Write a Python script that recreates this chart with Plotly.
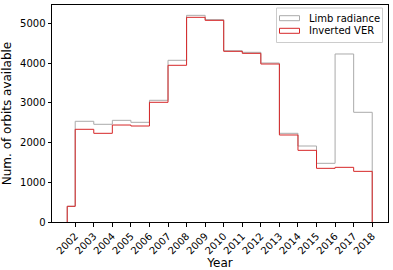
import plotly.graph_objects as go

bin_edges = [2001.57, 2002, 2003, 2004, 2005, 2006, 2007, 2008, 2009, 2010,
             2011, 2012, 2013, 2014, 2015, 2016, 2017, 2018]
limb_counts = [395, 2535, 2459, 2559, 2509, 3063, 4070, 5202, 5093, 4310,
               4271, 4002, 2232, 1913, 1477, 4229, 2761]
ver_counts = [395, 2333, 2232, 2441, 2416, 3013, 3944, 5152, 5076, 4296,
              4245, 3977, 2190, 1804, 1351, 1376, 1275]
tick_years = list(range(2002, 2019))
series_names = ["Limb radiance", "Inverted VER"]
series_colors = ["#aaaaaa", "#d62728"]

W, H = 393, 270
ML, MR, MT, MB = 52, 5, 5, 48
PW, PH = W - ML - MR, H - MT - MB


def step_path(edges, counts):
    xs = [edges[0]] + edges[:-1] + [edges[-1]]
    ys = [0] + counts + [0]
    return xs, ys


def px(x):
    return (x - ML) / PW


def py(y):
    return (H - MB - y) / PH


fig = go.Figure()
for name, counts, color in zip(series_names, [limb_counts, ver_counts], series_colors):
    xs, ys = step_path(bin_edges, counts)
    fig.add_trace(go.Scatter(x=xs, y=ys, mode="lines", name=name,
                             line=dict(color=color, width=1, shape="hv"),
                             showlegend=False, hoverinfo="skip"))

# custom matplotlib-like legend
shapes = [dict(type="rect", xref="paper", yref="paper",
               x0=px(276.5), x1=px(382.5), y0=py(42.5), y1=py(8),
               line=dict(color="#cccccc", width=1), fillcolor="rgba(255,255,255,0.8)",
               layer="above")]
annotations = []
for i, (name, color) in enumerate(zip(series_names, series_colors)):
    yc = 18.2 + i * 12.6
    shapes.append(dict(type="rect", xref="paper", yref="paper",
                       x0=px(279.5), x1=px(299.5), y0=py(yc + 2.5), y1=py(yc - 2.5),
                       line=dict(color=color, width=1), fillcolor="rgba(0,0,0,0)",
                       layer="above"))
    annotations.append(dict(xref="paper", yref="paper", x=px(306.5), y=py(yc),
                            xanchor="left", yanchor="middle", text=name,
                            showarrow=False, font=dict(size=10)))

fig.update_layout(
    width=W, height=H,
    margin=dict(l=ML, r=MR, t=MT, b=MB, autoexpand=False),
    plot_bgcolor="white", paper_bgcolor="white",
    font=dict(family="DejaVu Sans", size=10, color="black"),
    showlegend=False,
    shapes=shapes, annotations=annotations,
)
fig.update_xaxes(range=[2000.75, 2018.85], tickmode="array", tickvals=tick_years,
                 ticktext=[str(y) for y in tick_years], tickangle=-45,
                 ticks="outside", ticklen=3.5, tickcolor="black", showgrid=False,
                 zeroline=False, showline=True, linecolor="black", linewidth=1, mirror=True,
                 automargin=False, title=dict(text="Year", standoff=4))
fig.update_yaxes(range=[0, 5462], tickvals=[0, 1000, 2000, 3000, 4000, 5000],
                 ticks="outside", ticklen=3.5, tickcolor="black", showgrid=False,
                 zeroline=False, showline=True, linecolor="black", linewidth=1, mirror=True,
                 automargin=False, title=dict(text="Num. of orbits available", standoff=6))

fig.write_html("out.html", config={"displayModeBar": False},
               post_script="document.body.style.margin='0px';")
